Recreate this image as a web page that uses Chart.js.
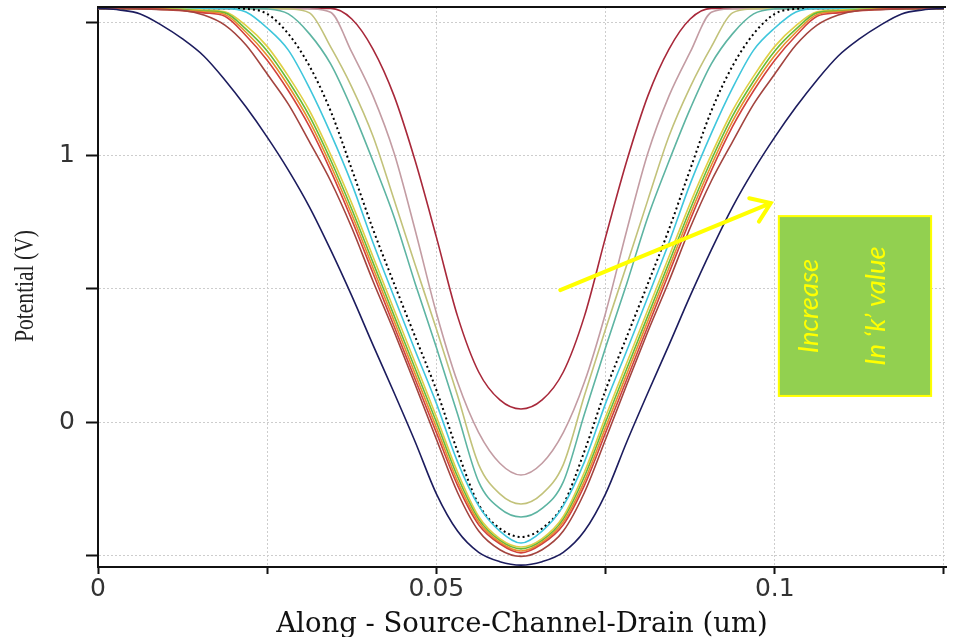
<!DOCTYPE html>
<html>
<head>
<meta charset="utf-8">
<script src="https://cdn.jsdelivr.net/npm/chart.js@4/dist/chart.umd.min.js"></script>
<style>
html,body{margin:0;padding:0;background:#ffffff;}
#wrap{width:953px;height:637px;position:relative;}
</style>
</head>
<body>
<div id="wrap"><canvas id="c" width="953" height="637"></canvas></div>
<script>
// Position along source-channel-drain (um)
const xPositions = [0,0.003125,0.00625,0.009375,0.0125,0.015625,0.01875,0.021875,0.025,0.028125,0.03125,0.034375,0.0375,0.040625,0.04375,0.046875,0.05,0.053125,0.05625,0.059375,0.0625,0.065625,0.06875,0.071875,0.075,0.078125,0.08125,0.084375,0.0875,0.090625,0.09375,0.096875,0.1,0.103125,0.10625,0.109375,0.1125,0.115625,0.11875,0.121875,0.125];

// Potential (V) curves, innermost (top) to outermost (bottom)
const curveDarkRed = [1.555,1.555,1.555,1.555,1.555,1.555,1.555,1.555,1.555,1.555,1.555,1.555,1.515,1.402,1.226,0.981,0.695,0.398,0.188,0.083,0.049,0.083,0.188,0.398,0.695,0.981,1.226,1.402,1.515,1.555,1.555,1.555,1.555,1.555,1.555,1.555,1.555,1.555,1.555,1.555,1.555];
const curveMauve = [1.555,1.555,1.555,1.555,1.555,1.555,1.555,1.555,1.555,1.555,1.553,1.540,1.390,1.226,1.011,0.720,0.410,0.150,-0.040,-0.155,-0.199,-0.155,-0.040,0.150,0.410,0.720,1.011,1.226,1.390,1.540,1.553,1.555,1.555,1.555,1.555,1.555,1.555,1.555,1.555,1.555,1.555];
const curveOlive = [1.555,1.555,1.555,1.555,1.555,1.555,1.555,1.555,1.555,1.553,1.538,1.410,1.259,1.075,0.835,0.590,0.350,0.100,-0.160,-0.270,-0.308,-0.270,-0.160,0.100,0.350,0.590,0.835,1.075,1.259,1.410,1.538,1.553,1.555,1.555,1.555,1.555,1.555,1.555,1.555,1.555,1.555];
const curveTeal = [1.555,1.555,1.555,1.555,1.555,1.555,1.555,1.555,1.553,1.534,1.459,1.346,1.177,0.981,0.771,0.520,0.280,0.030,-0.225,-0.325,-0.357,-0.325,-0.225,0.030,0.280,0.520,0.771,0.981,1.177,1.346,1.459,1.534,1.553,1.555,1.555,1.555,1.555,1.555,1.555,1.555,1.555];
const curveBlackDotted = [1.555,1.555,1.555,1.555,1.555,1.555,1.555,1.553,1.534,1.459,1.338,1.169,0.950,0.725,0.520,0.320,0.120,-0.110,-0.310,-0.400,-0.432,-0.400,-0.310,-0.110,0.120,0.320,0.520,0.725,0.950,1.169,1.338,1.459,1.534,1.553,1.555,1.555,1.555,1.555,1.555,1.555,1.555];
const curveCyan = [1.555,1.555,1.555,1.555,1.555,1.555,1.555,1.541,1.481,1.398,1.255,1.085,0.895,0.675,0.470,0.268,0.070,-0.150,-0.315,-0.410,-0.455,-0.410,-0.315,-0.150,0.070,0.268,0.470,0.675,0.895,1.085,1.255,1.398,1.481,1.541,1.555,1.555,1.555,1.555,1.555,1.555,1.555];
const curveYellow = [1.555,1.555,1.555,1.554,1.552,1.548,1.542,1.490,1.412,1.300,1.170,1.005,0.822,0.622,0.422,0.222,0.020,-0.188,-0.355,-0.438,-0.470,-0.438,-0.355,-0.188,0.020,0.222,0.422,0.622,0.822,1.005,1.170,1.300,1.412,1.490,1.542,1.548,1.552,1.554,1.555,1.555,1.555];
const curveGreen = [1.555,1.555,1.555,1.553,1.550,1.545,1.538,1.477,1.395,1.282,1.150,0.985,0.800,0.600,0.400,0.200,0.000,-0.205,-0.365,-0.445,-0.477,-0.445,-0.365,-0.205,0.000,0.200,0.400,0.600,0.800,0.985,1.150,1.282,1.395,1.477,1.538,1.545,1.550,1.553,1.555,1.555,1.555];
const curveOrange = [1.555,1.555,1.555,1.552,1.548,1.542,1.532,1.465,1.378,1.264,1.130,0.965,0.780,0.580,0.380,0.180,-0.020,-0.222,-0.375,-0.452,-0.485,-0.452,-0.375,-0.222,-0.020,0.180,0.380,0.580,0.780,0.965,1.130,1.264,1.378,1.465,1.532,1.542,1.548,1.552,1.555,1.555,1.555];
const curveRed = [1.555,1.555,1.554,1.551,1.546,1.538,1.525,1.452,1.360,1.245,1.110,0.945,0.760,0.560,0.360,0.160,-0.040,-0.238,-0.386,-0.458,-0.492,-0.458,-0.386,-0.238,-0.040,0.160,0.360,0.560,0.760,0.945,1.110,1.245,1.360,1.452,1.525,1.538,1.546,1.551,1.554,1.555,1.555];
const curveBrown = [1.555,1.555,1.553,1.550,1.547,1.530,1.492,1.417,1.308,1.195,1.053,0.906,0.730,0.530,0.340,0.140,-0.065,-0.265,-0.410,-0.480,-0.505,-0.480,-0.410,-0.265,-0.065,0.140,0.340,0.530,0.730,0.906,1.053,1.195,1.308,1.417,1.492,1.530,1.547,1.550,1.553,1.555,1.555];
const curveNavy = [1.555,1.549,1.534,1.492,1.440,1.376,1.286,1.184,1.071,0.947,0.808,0.647,0.474,0.290,0.110,-0.075,-0.270,-0.410,-0.490,-0.525,-0.538,-0.525,-0.490,-0.410,-0.270,-0.075,0.110,0.290,0.474,0.647,0.808,0.947,1.071,1.184,1.286,1.376,1.440,1.492,1.534,1.549,1.555];

// Ticks
const xTickValues = [0,0.025,0.05,0.075,0.1,0.125];
const xTickLabels = ['0','','0.05','','0.1',''];
const yTickValues = [-0.5,0,0.5,1,1.5];
const yTickLabels = ['','0','','1',''];

// Annotation text
const noteLine1 = 'Increase';
const noteLine2 = 'In \u2018k\u2019 value';

const seriesList = [
  {data: curveNavy, color: '#1c1c5e'},
  {data: curveBrown, color: '#a3443f'},
  {data: curveRed, color: '#d2423c'},
  {data: curveOrange, color: '#e8902c'},
  {data: curveGreen, color: '#68bb36'},
  {data: curveYellow, color: '#e0cf45'},
  {data: curveCyan, color: '#3fc6dc'},
  {data: curveBlackDotted, color: '#000000', dash: [2,3]},
  {data: curveTeal, color: '#5db4a2'},
  {data: curveOlive, color: '#c2c27a'},
  {data: curveMauve, color: '#c39ca3'},
  {data: curveDarkRed, color: '#a8283a'}
];

const datasets = seriesList.map(s => ({
  data: xPositions.map((xv, i) => ({x: xv, y: s.data[i]})),
  borderColor: s.color,
  borderWidth: s.dash ? 2 : 1.6,
  borderDash: s.dash || [],
  pointRadius: 0,
  fill: false,
  cubicInterpolationMode: 'monotone'
}));

const tickFont = {family: 'DejaVu Sans', size: 25};

const overlay = {
  id: 'overlay',
  afterDatasetsDraw(chart) {
    const {ctx, chartArea: a, scales: {x, y}} = chart;
    ctx.save();
    // top frame line
    ctx.strokeStyle = '#111';
    ctx.lineWidth = 2;
    ctx.beginPath();
    ctx.moveTo(a.left - 1, a.top);
    ctx.lineTo(a.right, a.top);
    ctx.stroke();

    // arrow
    const x0 = x.getPixelForValue(0.0683), y0 = y.getPixelForValue(0.496);
    const x1 = x.getPixelForValue(0.0994), y1 = y.getPixelForValue(0.823);
    ctx.strokeStyle = '#ffff00';
    ctx.lineWidth = 4;
    ctx.lineCap = 'round';
    ctx.beginPath();
    ctx.moveTo(x0, y0);
    ctx.lineTo(x1, y1);
    const ang = Math.atan2(y0 - y1, x0 - x1);
    const L = 22, sp = 35 * Math.PI / 180;
    ctx.moveTo(x1 + L * Math.cos(ang + sp), y1 + L * Math.sin(ang + sp));
    ctx.lineTo(x1, y1);
    ctx.lineTo(x1 + L * Math.cos(ang - sp), y1 + L * Math.sin(ang - sp));
    ctx.stroke();

    // box
    const bx0 = x.getPixelForValue(0.1006), bx1 = x.getPixelForValue(0.1231);
    const by0 = y.getPixelForValue(0.774), by1 = y.getPixelForValue(0.098);
    ctx.fillStyle = '#92d050';
    ctx.fillRect(bx0, by0, bx1 - bx0, by1 - by0);
    ctx.strokeStyle = '#ffff00';
    ctx.lineWidth = 2;
    ctx.strokeRect(bx0, by0, bx1 - bx0, by1 - by0);

    // box text (rotated)
    ctx.fillStyle = '#ffff00';
    ctx.font = 'italic 27.5px Lato';
    ctx.textAlign = 'center';
    ctx.textBaseline = 'middle';
    const cy = (by0 + by1) / 2;
    ctx.save();
    ctx.translate(bx0 + 30, cy);
    ctx.rotate(-Math.PI / 2);
    ctx.fillText(noteLine1, 0, 0);
    ctx.restore();
    ctx.save();
    ctx.translate(bx0 + 97, cy);
    ctx.rotate(-Math.PI / 2);
    ctx.fillText(noteLine2, 0, 0);
    ctx.restore();

    // y axis title
    ctx.save();
    ctx.translate(26, (y.getPixelForValue(0) + y.getPixelForValue(1)) / 2 - 3);
    ctx.rotate(-Math.PI / 2);
    ctx.font = '28px "Liberation Serif"';
    const w = ctx.measureText('Potential (V)').width;
    ctx.scale(112 / w, 1);
    ctx.fillStyle = '#222';
    ctx.textAlign = 'center';
    ctx.textBaseline = 'middle';
    ctx.fillText('Potential (V)', 0, 0);
    ctx.restore();

    ctx.restore();
  }
};

new Chart(document.getElementById('c'), {
  type: 'line',
  data: {datasets},
  plugins: [overlay],
  options: {
    responsive: false,
    animation: false,
    layout: {padding: {left: 0, right: 7, top: 7, bottom: 0}},
    plugins: {legend: {display: false}, tooltip: {enabled: false}},
    scales: {
      x: {
        type: 'linear',
        min: 0,
        max: 0.1253,
        afterFit(s) { s.height = 70; s.paddingLeft = 0; s.paddingRight = 0; },
        afterBuildTicks(s) { s.ticks = xTickValues.map(v => ({value: v})); },
        ticks: {
          autoSkip: false, maxRotation: 0, minRotation: 0, padding: 0,
          color: '#333', font: tickFont,
          callback: (v, i) => xTickLabels[i]
        },
        grid: {color: '#cdcdcd', lineWidth: 1, tickLength: 7, tickColor: '#111', tickWidth: 2, tickBorderDash: []},
        border: {display: true, color: '#111', width: 2, dash: [2, 2]},
        title: {
          display: true, text: 'Along - Source-Channel-Drain (um)', color: '#111',
          font: {family: 'DejaVu Serif', size: 27.5, lineHeight: 0.9},
          padding: {top: 0, bottom: 0}
        }
      },
      y: {
        type: 'linear',
        min: -0.545,
        max: 1.56,
        afterFit(s) { s.width = 98; s.paddingTop = 0; s.paddingBottom = 0; },
        afterBuildTicks(s) { s.ticks = yTickValues.map(v => ({value: v})); },
        ticks: {
          autoSkip: false, padding: 11,
          color: '#333', font: tickFont,
          callback: (v, i) => yTickLabels[i]
        },
        grid: {color: '#cdcdcd', lineWidth: 1, tickLength: 12, tickColor: '#111', tickWidth: 2, tickBorderDash: []},
        border: {display: true, color: '#111', width: 2, dash: [2, 2]},
        title: {display: false}
      }
    }
  }
});
</script>
</body>
</html>
